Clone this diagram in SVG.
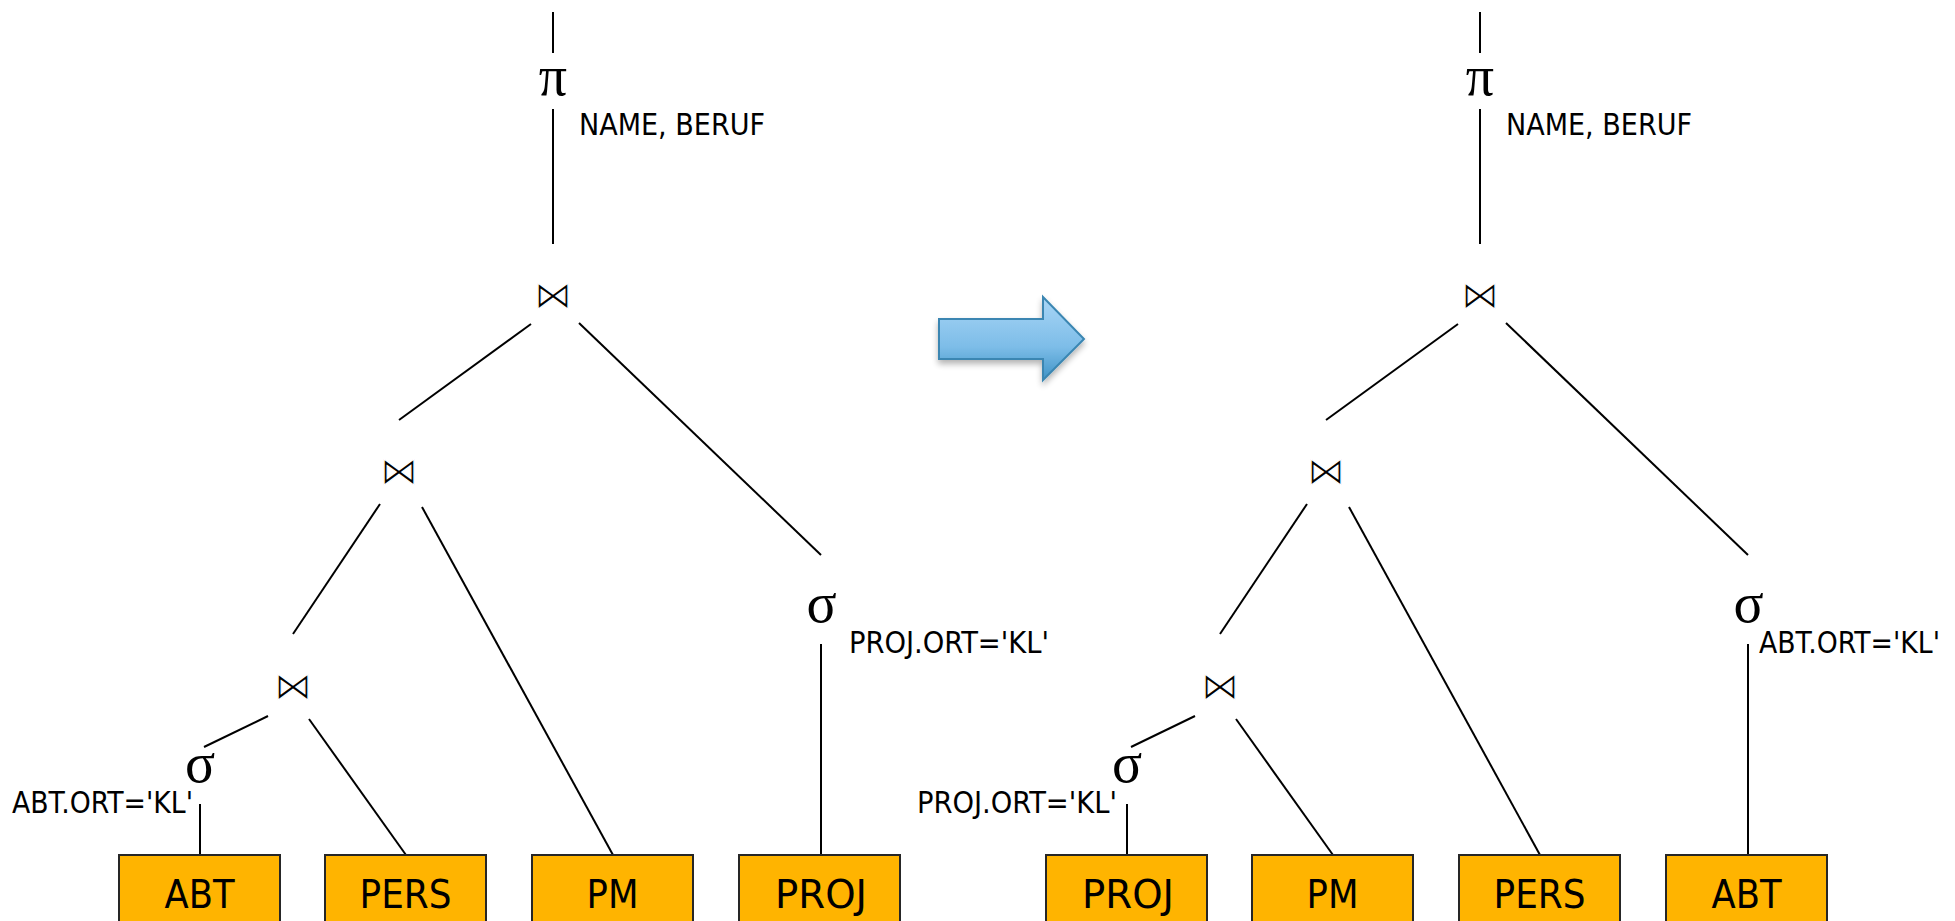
<svg xmlns="http://www.w3.org/2000/svg" width="1955" height="921" viewBox="0 0 1955 921">
<style>
.ln{stroke:#000;stroke-width:2;fill:none}
.sym{font-family:"Liberation Serif","Times New Roman",serif;font-size:56px;fill:#000;text-anchor:middle}
.bt{font-family:"DejaVu Sans",sans-serif;font-size:38px;fill:#000;stroke:#fff;stroke-width:1.2;text-anchor:middle}
.lbl{font-family:"DejaVu Sans Condensed","DejaVu Sans",sans-serif;font-size:30px;fill:#000}
.box{fill:#FFB400;stroke:#262626;stroke-width:2}
.bx{font-family:"DejaVu Sans Condensed","DejaVu Sans",sans-serif;font-size:39px;fill:#000;text-anchor:middle}
</style>
<defs>
<linearGradient id="ag" x1="0" y1="0" x2="0" y2="1">
<stop offset="0" stop-color="#a9d6f6"/>
<stop offset="0.6" stop-color="#7dbde8"/>
<stop offset="1" stop-color="#3f93c6"/>
</linearGradient>
<filter id="sh" x="-20%" y="-20%" width="140%" height="150%">
<feGaussianBlur in="SourceAlpha" stdDeviation="3"/>
<feOffset dx="0" dy="4" result="b"/>
<feComponentTransfer><feFuncA type="linear" slope="0.3"/></feComponentTransfer>
<feMerge><feMergeNode/><feMergeNode in="SourceGraphic"/></feMerge>
</filter>
</defs>
<rect width="1955" height="921" fill="#fff"/>

<g id="connectors">
<!-- left tree -->
<line class="ln" x1="553" y1="12" x2="553" y2="53"/>
<line class="ln" x1="553" y1="109" x2="553" y2="244"/>
<line class="ln" x1="531" y1="324" x2="399" y2="420"/>
<line class="ln" x1="579" y1="323" x2="821" y2="555"/>
<line class="ln" x1="380" y1="504" x2="293" y2="634"/>
<line class="ln" x1="422" y1="507" x2="613" y2="855"/>
<line class="ln" x1="268" y1="716" x2="204" y2="747"/>
<line class="ln" x1="309" y1="719" x2="406" y2="855"/>
<line class="ln" x1="200" y1="804" x2="200" y2="855"/>
<line class="ln" x1="821" y1="644" x2="821" y2="855"/>
<!-- right tree -->
<line class="ln" x1="1480" y1="12" x2="1480" y2="53"/>
<line class="ln" x1="1480" y1="109" x2="1480" y2="244"/>
<line class="ln" x1="1458" y1="324" x2="1326" y2="420"/>
<line class="ln" x1="1506" y1="323" x2="1748" y2="555"/>
<line class="ln" x1="1307" y1="504" x2="1220" y2="634"/>
<line class="ln" x1="1349" y1="507" x2="1540" y2="855"/>
<line class="ln" x1="1195" y1="716" x2="1131" y2="747"/>
<line class="ln" x1="1236" y1="719" x2="1333" y2="855"/>
<line class="ln" x1="1127" y1="804" x2="1127" y2="855"/>
<line class="ln" x1="1748" y1="644" x2="1748" y2="855"/>
</g>

<g id="left-pi"><text class="sym" x="553" y="95">π</text><text class="lbl" x="579" y="135" textLength="186" lengthAdjust="spacingAndGlyphs">NAME, BERUF</text></g>
<g id="left-join1"><text class="bt" x="553" y="308">⋈</text></g>
<g id="left-join2"><text class="bt" x="399" y="484">⋈</text></g>
<g id="left-join3"><text class="bt" x="293" y="699">⋈</text></g>
<g id="left-sigma1"><text class="sym" x="200" y="782">σ</text><text class="lbl" x="12" y="813" textLength="181" lengthAdjust="spacingAndGlyphs">ABT.ORT='KL'</text></g>
<g id="left-sigma2"><text class="sym" x="821.5" y="622">σ</text><text class="lbl" x="849" y="653" textLength="200" lengthAdjust="spacingAndGlyphs">PROJ.ORT='KL'</text></g>
<g id="left-abt"><rect class="box" x="119" y="855" width="161" height="80"/><text class="bx" x="199.5" y="908" textLength="70" lengthAdjust="spacingAndGlyphs">ABT</text></g>
<g id="left-pers"><rect class="box" x="325" y="855" width="161" height="80"/><text class="bx" x="405.5" y="908" textLength="92" lengthAdjust="spacingAndGlyphs">PERS</text></g>
<g id="left-pm"><rect class="box" x="532" y="855" width="161" height="80"/><text class="bx" x="612.5" y="908" textLength="52" lengthAdjust="spacingAndGlyphs">PM</text></g>
<g id="left-proj"><rect class="box" x="739" y="855" width="161" height="80"/><text class="bx" x="821" y="908" textLength="92" lengthAdjust="spacingAndGlyphs">PROJ</text></g>

<g id="arrow"><path d="M939,319 H1043 V297 L1084,339 L1043,380 V359 H939 Z" fill="url(#ag)" stroke="#3a86b2" stroke-width="2" stroke-linejoin="miter" filter="url(#sh)"/></g>

<g id="right-pi"><text class="sym" x="1480" y="95">π</text><text class="lbl" x="1506" y="135" textLength="186" lengthAdjust="spacingAndGlyphs">NAME, BERUF</text></g>
<g id="right-join1"><text class="bt" x="1480" y="308">⋈</text></g>
<g id="right-join2"><text class="bt" x="1326" y="484">⋈</text></g>
<g id="right-join3"><text class="bt" x="1220" y="699">⋈</text></g>
<g id="right-sigma1"><text class="sym" x="1127" y="782">σ</text><text class="lbl" x="917" y="813" textLength="200" lengthAdjust="spacingAndGlyphs">PROJ.ORT='KL'</text></g>
<g id="right-sigma2"><text class="sym" x="1748.5" y="622">σ</text><text class="lbl" x="1759" y="653" textLength="181" lengthAdjust="spacingAndGlyphs">ABT.ORT='KL'</text></g>
<g id="right-proj"><rect class="box" x="1046" y="855" width="161" height="80"/><text class="bx" x="1128" y="908" textLength="92" lengthAdjust="spacingAndGlyphs">PROJ</text></g>
<g id="right-pm"><rect class="box" x="1252" y="855" width="161" height="80"/><text class="bx" x="1332.5" y="908" textLength="52" lengthAdjust="spacingAndGlyphs">PM</text></g>
<g id="right-pers"><rect class="box" x="1459" y="855" width="161" height="80"/><text class="bx" x="1539.5" y="908" textLength="92" lengthAdjust="spacingAndGlyphs">PERS</text></g>
<g id="right-abt"><rect class="box" x="1666" y="855" width="161" height="80"/><text class="bx" x="1746.5" y="908" textLength="70" lengthAdjust="spacingAndGlyphs">ABT</text></g>
</svg>
